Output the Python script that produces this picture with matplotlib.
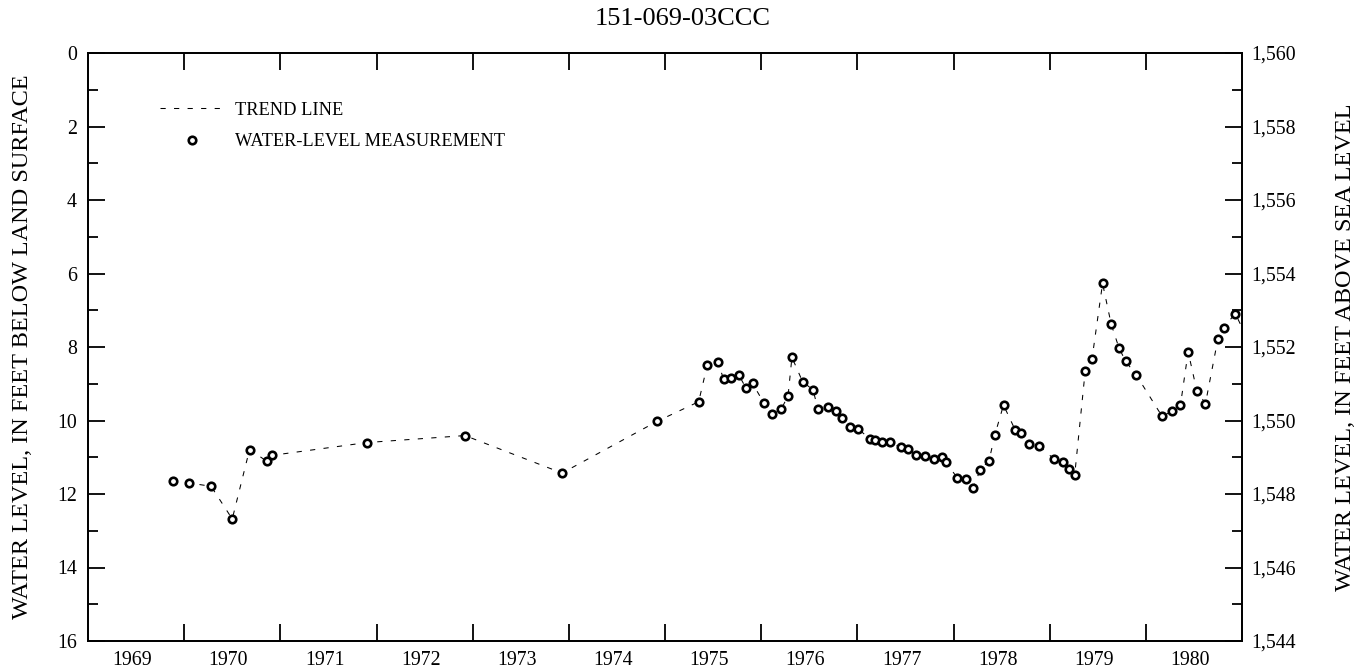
import matplotlib
matplotlib.use("Agg")
import matplotlib.pyplot as plt
from matplotlib.ticker import FixedLocator, FuncFormatter

plt.rcParams['font.family'] = ['Liberation Serif', 'DejaVu Serif']

# ---- data (decimal year, depth below land surface in feet) ----
dates = [1969.88, 1970.05, 1970.28, 1970.50, 1970.68, 1970.86, 1970.91,
         1971.90, 1972.92, 1973.93, 1974.92,
         1975.35, 1975.44, 1975.55, 1975.61, 1975.69, 1975.77, 1975.84, 1975.91,
         1976.03, 1976.11, 1976.21, 1976.28, 1976.32, 1976.43, 1976.54, 1976.59,
         1976.70, 1976.78, 1976.84, 1976.92,
         1977.01, 1977.13, 1977.18, 1977.26, 1977.34, 1977.45, 1977.53, 1977.61,
         1977.70, 1977.80, 1977.88, 1977.92,
         1978.04, 1978.13, 1978.20, 1978.28, 1978.37, 1978.43, 1978.52, 1978.64,
         1978.70, 1978.78, 1978.89,
         1979.05, 1979.14, 1979.20, 1979.26, 1979.37, 1979.44, 1979.55, 1979.64,
         1979.72, 1979.79, 1979.90,
         1980.17, 1980.27, 1980.36, 1980.44, 1980.53, 1980.62, 1980.75, 1980.81,
         1980.93, 1981.08]
depths = [11.64, 11.70, 11.79, 12.68, 10.79, 11.11, 10.95,
          10.60, 10.41, 11.43, 10.02,
          9.49, 8.49, 8.41, 8.88, 8.84, 8.77, 9.11, 8.99,
          9.53, 9.82, 9.69, 9.32, 8.28, 8.94, 9.17, 9.69,
          9.62, 9.75, 9.94, 10.18,
          10.23, 10.50, 10.52, 10.59, 10.59, 10.73, 10.78, 10.93,
          10.97, 11.04, 10.98, 11.14,
          11.56, 11.58, 11.84, 11.34, 11.09, 10.39, 9.58, 10.25,
          10.34, 10.63, 10.69,
          11.06, 11.13, 11.32, 11.49, 8.64, 8.33, 6.27, 7.38,
          8.02, 8.39, 8.76,
          9.89, 9.75, 9.58, 8.13, 9.19, 9.54, 7.77, 7.47,
          7.09, 7.90]

title = "151-069-03CCC"
left_label = "WATER LEVEL, IN FEET BELOW LAND SURFACE"
right_label = "WATER LEVEL, IN FEET ABOVE SEA LEVEL"
year_labels = [1969, 1970, 1971, 1972, 1973, 1974, 1975, 1976, 1977, 1978, 1979, 1980]
land_surface = 1560

fig = plt.figure(figsize=(13.65, 6.70), dpi=100)
ax = fig.add_axes([88/1365, 1 - 641/670, 1154/1365, 588/670])

ax.plot(dates, depths, color='black', lw=0.75, linestyle=(0, (5, 8)),
        label='TREND LINE', zorder=2)
ax.plot(dates, depths, linestyle='none', marker='o', ms=5.4, mew=1.9,
        mec='black', mfc='white', label='WATER-LEVEL MEASUREMENT', zorder=3)

ax.set_xlim(1969, 1981)
ax.set_ylim(16, 0)

# x ticks: marks at year boundaries, labels centred in each year
ax.xaxis.set_major_locator(FixedLocator([y + 1 for y in year_labels[:-1]]))
ax.xaxis.set_major_formatter(FuncFormatter(lambda v, p: ""))
ax.xaxis.set_minor_locator(FixedLocator([y + 0.46 for y in year_labels]))
ax.xaxis.set_minor_formatter(FuncFormatter(lambda v, p: str(int(round(v - 0.46)))))
ax.tick_params(axis='x', which='major', direction='in', length=12, width=1.3,
               top=True, bottom=True)
ax.tick_params(axis='x', which='minor', length=0, pad=7, labelsize=14.3)

ax.yaxis.set_major_locator(FixedLocator(list(range(0, 17, 2))))
ax.yaxis.set_minor_locator(FixedLocator(list(range(1, 16, 2))))
ax.tick_params(axis='y', which='major', direction='in', length=12, width=1.3,
               pad=8, labelsize=14.3)
ax.tick_params(axis='y', which='minor', direction='in', length=7, width=1.3)

for s in ax.spines.values():
    s.set_linewidth(1.3)

ax2 = ax.twinx()
ax2.set_ylim(land_surface - 16, land_surface)
ax2.yaxis.set_major_locator(FixedLocator(list(range(1544, 1561, 2))))
ax2.yaxis.set_minor_locator(FixedLocator(list(range(1545, 1560, 2))))
ax2.yaxis.set_major_formatter(FuncFormatter(lambda v, p: f"{int(v):,}"))
ax2.tick_params(axis='y', which='major', direction='in', length=12, width=1.3,
                pad=7, labelsize=14.3)
ax2.tick_params(axis='y', which='minor', direction='in', length=7, width=1.3)
for s in ax2.spines.values():
    s.set_linewidth(1.3)

ax.set_ylabel(left_label, fontsize=17.5, labelpad=17)
ax2.set_ylabel(right_label, fontsize=17.5, labelpad=28)
fig.text(0.5, 1 - 19/670, title, fontsize=19, ha='center', va='center')

leg = ax.legend(loc='upper left', bbox_to_anchor=(0.062, 0.917), frameon=False,
                fontsize=13.2, handlelength=3.5, handletextpad=0.6,
                labelspacing=0.78, borderpad=0, borderaxespad=0, numpoints=1)

fig.savefig("out.png", dpi=100)
